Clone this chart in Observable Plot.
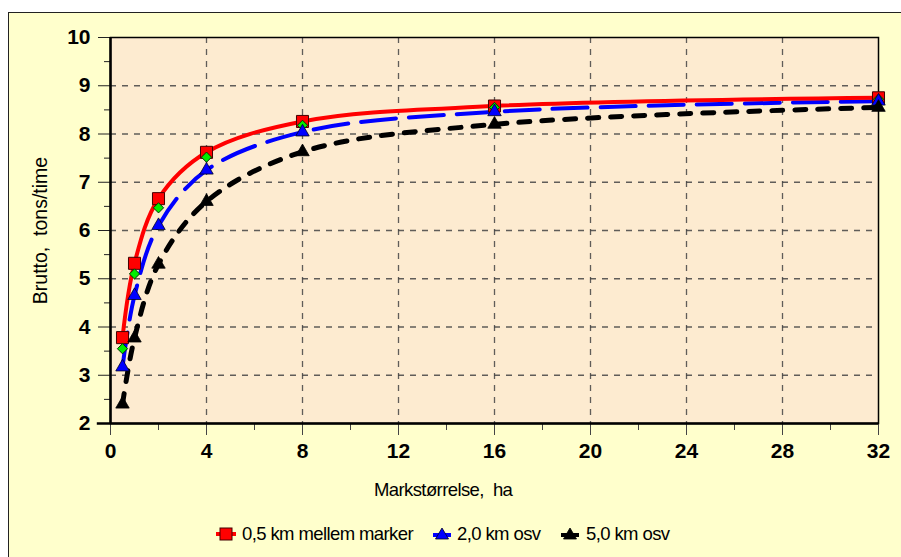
<!DOCTYPE html>
<html>
<head>
<meta charset="utf-8">
<script src="https://cdn.jsdelivr.net/npm/d3@7"></script>
<script src="https://cdn.jsdelivr.net/npm/@observablehq/plot@0.6"></script>
<style>
  html, body { margin: 0; padding: 0; background: #ffffff; width: 901px; height: 557px; overflow: hidden; }
  body { position: relative; font-family: "Liberation Sans", Arial, sans-serif; }
  #bg { position: absolute; left: 8px; top: 12px; width: 1000px; height: 700px; border: 1.5px solid #222; background: #FFFFCC; }
  #chart { position: absolute; left: 0; top: 0; }
  .lbl { position: absolute; font-size: 18.5px; letter-spacing: -0.6px; color: #000; white-space: pre; line-height: 22px; }
  .sw { position: absolute; }
</style>
</head>
<body>
<div id="bg"></div>
<div id="chart"></div>
<div class="lbl" style="left:374px; top:479px;">Markstørrelse,  ha</div>
<svg class="sw" style="left:214px; top:524px;" width="24" height="20">
  <line x1="2" y1="10" x2="22" y2="10" stroke="red" stroke-width="4"/>
  <rect x="6" y="4" width="12" height="12" fill="red" stroke="#400" stroke-width="1"/>
</svg>
<div class="lbl" style="left:242px; top:523px;">0,5 km mellem marker</div>
<svg class="sw" style="left:430px; top:524px;" width="24" height="20">
  <line x1="3" y1="11" x2="21" y2="11" stroke="blue" stroke-width="4"/>
  <path d="M12,4 L18.5,15 L5.5,15 Z" fill="blue" stroke="#002" stroke-width="0.8"/>
</svg>
<div class="lbl" style="left:457px; top:523px;">2,0 km osv</div>
<svg class="sw" style="left:558px; top:524px;" width="24" height="20">
  <line x1="3" y1="11" x2="21" y2="11" stroke="black" stroke-width="4"/>
  <path d="M12,4 L18.5,15 L5.5,15 Z" fill="black" stroke="#000" stroke-width="0.8"/>
</svg>
<div class="lbl" style="left:586px; top:523px;">5,0 km osv</div>
<script>
// Data
const sizes = [0.5, 1, 2, 4, 8, 16, 32];                     // Markstørrelse, ha
const red   = [3.78, 5.32, 6.66, 7.62, 8.26, 8.58, 8.75];    // 0,5 km mellem marker
const green = [3.55, 5.10, 6.47, 7.52, 8.18, 8.55, 8.72];    // (unlabelled series)
const blue  = [3.17, 4.65, 6.10, 7.25, 8.04, 8.46, 8.68];    // 2,0 km osv
const black = [2.40, 3.77, 5.30, 6.60, 7.63, 8.20, 8.55];    // 5,0 km osv
const xTicks = [0, 4, 8, 12, 16, 20, 24, 28, 32];
const yTicks = [2, 3, 4, 5, 6, 7, 8, 9, 10];
const xMinor = [2, 6, 10, 14, 18, 22, 26, 30];
const yMinor = [2.5, 3.5, 4.5, 5.5, 6.5, 7.5, 8.5, 9.5];
const yTitle = "Brutto,\u00a0 tons/time";

const rows = sizes.map((s, i) => ({s, red: red[i], green: green[i], blue: blue[i], black: black[i]}));

const chart = Plot.plot({
  width: 901,
  height: 505,
  marginLeft: 110,
  marginRight: 23,
  marginTop: 37,
  marginBottom: 82,
  style: {background: "transparent", fontFamily: "'Liberation Sans', Arial, sans-serif", color: "black", overflow: "visible"},
  x: {domain: [0, 32]},
  y: {domain: [2, 10]},
  marks: [
    Plot.frame({fill: "#FDEBD0", stroke: "none"}),
    Plot.gridX(xTicks.slice(1, -1), {stroke: "#444", strokeOpacity: 0.85, strokeWidth: 1.3, strokeDasharray: "6,6"}),
    Plot.gridY(yTicks.slice(1, -1), {stroke: "#444", strokeOpacity: 0.85, strokeWidth: 1.3, strokeDasharray: "6,6"}),
    Plot.axisX({ticks: xMinor, tickSize: 7, text: null, label: null, stroke: "#444"}),
    Plot.axisX({ticks: xTicks, tickSize: 12, tickPadding: 8, fontSize: 21, fontWeight: "bold", label: null, stroke: "#444", tickFormat: d => String(d)}),
    Plot.axisY({ticks: yMinor, tickSize: 6, text: null, label: null, stroke: "#222"}),
    Plot.axisY({ticks: yTicks, tickSize: 12, tickPadding: 8, fontSize: 21, fontWeight: "bold", label: null, stroke: "#222", tickFormat: d => String(d)}),
    Plot.frame({stroke: "black", strokeWidth: 1.5}),
    Plot.ruleX([0], {stroke: "black", strokeWidth: 2.5}),
    Plot.ruleY([2], {x1: -0.55, x2: 32, stroke: "black", strokeWidth: 2.5}),
    Plot.text([yTitle], {frameAnchor: "left", textAnchor: "middle", dx: -70, rotate: -90, fontSize: 19.5, fill: "black"}),
    Plot.line(rows, {x: "s", y: "black", stroke: "black", strokeWidth: 5, strokeDasharray: "11,12", curve: "catmull-rom"}),
    Plot.line(rows, {x: "s", y: "blue", stroke: "blue", strokeWidth: 4, strokeDasharray: "35,13", curve: "catmull-rom"}),
    Plot.line(rows, {x: "s", y: "red", stroke: "red", strokeWidth: 4, curve: "catmull-rom"}),
    Plot.dot(rows, {x: "s", y: "red", symbol: "square", r: 6.8, fill: "red", stroke: "#400", strokeWidth: 1}),
    Plot.dot(rows, {x: "s", y: "green", symbol: "diamond2", r: 4.6, fill: "#00ee00", stroke: "#030", strokeWidth: 1}),
    Plot.dot(rows, {x: "s", y: "blue", symbol: "triangle", r: 5, fill: "blue", stroke: "#002", strokeWidth: 0.8}),
    Plot.dot(rows, {x: "s", y: "black", symbol: "triangle", r: 5, fill: "black", stroke: "#000", strokeWidth: 0.8})
  ]
});
document.getElementById("chart").appendChild(chart);
</script>
</body>
</html>
